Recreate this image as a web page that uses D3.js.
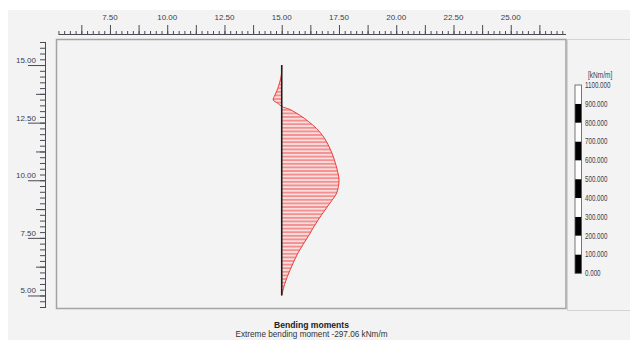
<!DOCTYPE html>
<html><head><meta charset="utf-8">
<script src="https://cdn.jsdelivr.net/npm/d3@7/dist/d3.min.js"></script>
<style>
html,body{margin:0;padding:0;background:#fff;}
svg{display:block;font-family:"Liberation Sans",Arial,sans-serif;}
</style></head>
<body><svg id="c" width="630" height="340"></svg>
<script>
// ---- data ----
const xTickValues = [7.5, 10, 12.5, 15, 17.5, 20, 22.5, 25];
const xTickLabels = ["7.50", "10.00", "12.50", "15.00", "17.50", "20.00", "22.50", "25.00"];
const yTickValues = [5, 7.5, 10, 12.5, 15];
const yTickLabels = ["5.00", "7.50", "10.00", "12.50", "15.00"];
const levels  = [15.0, 14.57, 13.99, 13.70, 13.48, 13.34, 13.2, 13.08, 12.8, 12.54, 12.25, 11.82, 11.10, 10.37, 10.01, 9.45, 9.01, 8.27, 7.55, 6.84, 6.10, 5.54, 5.0];
const moments = [0, 2, 20, 35, 44, 20, 0, -40, -98, -140, -180, -222, -264, -290, -297.06, -285, -250, -188, -136, -84, -43, -17, 0];
const pileX = 15, pileTop = 15, pileBottom = 5;
const legendLabels = ["0.000", "100.000", "200.000", "300.000", "400.000", "500.000", "600.000", "700.000", "800.000", "900.000", "1100.000"];
const legendUnit = "[kNm/m]";
const chartTitle = "Bending moments";
const extremeMoment = -297.06;
const subtitle = "Extreme bending moment -297.06 kNm/m";

// ---- layout ----
const svg = d3.select("#c");
const x = d3.scaleLinear().domain([5, 27.5]).range([52.7, 568]);
const y = d3.scaleLinear().domain([4.5, 16]).range([307, 42]);
const mx = d3.scaleLinear().domain([0, extremeMoment]).range([x(pileX), x(pileX) + 57.3]);

svg.append("rect").attr("x", 8).attr("y", 10).attr("width", 622).attr("height", 330).attr("fill", "#f3f3f3");

// legend panel frame
svg.append("rect").attr("x", 567.5).attr("y", 39.5).attr("width", 70).attr("height", 271)
  .attr("fill", "#f3f3f3").attr("stroke", "#d4d4d4").attr("stroke-width", 1);

// plot frame
svg.append("rect").attr("x", 56.5).attr("y", 39.5).attr("width", 509.5).attr("height", 269)
  .attr("fill", "#f3f3f3").attr("stroke", "#a3a3a3").attr("stroke-width", 1.5);

// hatch pattern
const defs = svg.append("defs");
const pat = defs.append("pattern").attr("id", "hatch").attr("patternUnits", "userSpaceOnUse")
  .attr("width", 8).attr("height", 3.6);
pat.append("rect").attr("width", 8).attr("height", 3.6).attr("fill", "rgba(255,180,180,0.35)");
pat.append("line").attr("x1", 0).attr("x2", 8).attr("y1", 1.8).attr("y2", 1.8)
  .attr("stroke", "#f07070").attr("stroke-width", 1.3);

const axColor = "#4a4a55";
function tickGroup(parent, axis) {
  const g = parent.append("g").call(axis);
  g.selectAll(".domain").remove();
  g.selectAll(".tick line").attr("stroke", axColor);
  return g;
}

// ---- top axis ----
const gTop = svg.append("g").attr("transform", "translate(0,34)");
const minorX = d3.range(5.25, 27.3, 0.25);
const medX = d3.range(6.25, 27.3, 1.25);
tickGroup(gTop, d3.axisTop(x).tickValues(minorX).tickSize(3).tickFormat(""));
tickGroup(gTop, d3.axisTop(x).tickValues(medX).tickSize(9).tickFormat(""));
gTop.append("line").attr("x1", x(5.25)).attr("x2", 566).attr("y1", 0.5).attr("y2", 0.5)
  .attr("stroke", axColor).attr("stroke-width", 1);
gTop.selectAll("text.lbl").data(xTickValues).join("text").attr("class", "lbl")
  .attr("x", d => x(d)).attr("y", -14.5).attr("text-anchor", "middle")
  .attr("font-size", 8).attr("fill", "#3c3c4c").text((d, i) => xTickLabels[i]);

// ---- left axis ----
const gLeft = svg.append("g").attr("transform", "translate(46,0)");
const minorY = d3.range(4.5, 16.01, 0.25);
const medY = d3.range(6.25, 16.01, 2.5);
tickGroup(gLeft, d3.axisLeft(y).tickValues(minorY).tickSize(6).tickFormat(""));
tickGroup(gLeft, d3.axisLeft(y).tickValues(medY).tickSize(10).tickFormat(""));
tickGroup(gLeft, d3.axisLeft(y).tickValues(yTickValues).tickSize(18).tickFormat(""));
gLeft.append("line").attr("x1", -0.5).attr("x2", -0.5).attr("y1", y(16)).attr("y2", y(4.5))
  .attr("stroke", axColor).attr("stroke-width", 1);
gLeft.selectAll("text.lbl").data(yTickValues).join("text").attr("class", "lbl")
  .attr("x", -10).attr("y", d => y(d) - 2).attr("text-anchor", "end")
  .attr("font-size", 8).attr("fill", "#3c3c4c").text((d, i) => yTickLabels[i]);

// ---- moment diagram ----
const pts = levels.map((l, i) => ({l, m: moments[i]}));
const curve = d3.curveCatmullRom.alpha(0.5);
const area = d3.area().y(d => y(d.l)).x0(x(pileX)).x1(d => mx(d.m)).curve(curve);
const line = d3.line().y(d => y(d.l)).x(d => mx(d.m)).curve(curve);
svg.append("path").datum(pts).attr("d", area).attr("fill", "url(#hatch)");
svg.append("path").datum(pts).attr("d", line).attr("fill", "none")
  .attr("stroke", "#ec3a3a").attr("stroke-width", 1);

// pile
svg.append("line").attr("x1", x(pileX)).attr("x2", x(pileX))
  .attr("y1", y(pileTop)).attr("y2", y(pileBottom))
  .attr("stroke", "#1e1e1e").attr("stroke-width", 1.6);

// ---- legend ----
const ly = d3.scaleLinear().domain([0, 10]).range([273.3, 85]);
const segs = d3.range(10);
svg.append("g").selectAll("rect").data(segs).join("rect")
  .attr("x", 575).attr("width", 6.5)
  .attr("y", d => ly(d + 1)).attr("height", d => ly(d) - ly(d + 1))
  .attr("fill", d => d % 2 === 0 ? "#000" : "#fff");
svg.append("rect").attr("x", 575).attr("y", ly(10)).attr("width", 6.5).attr("height", ly(0) - ly(10))
  .attr("fill", "none").attr("stroke", "#555").attr("stroke-width", 0.8);
svg.append("g").selectAll("text").data(legendLabels).join("text")
  .attr("transform", (d, i) => `translate(585,${ly(i) + 2.9}) scale(0.76,1)`)
  .attr("font-size", 8.2).attr("fill", "#3c3c4c").text(d => d);
svg.append("text").attr("transform", "translate(588,78) scale(0.8,1)")
  .attr("font-size", 8.2).attr("fill", "#3c3c4c").text(legendUnit);

// ---- titles ----
svg.append("text").attr("x", 311.5).attr("y", 328).attr("text-anchor", "middle")
  .attr("font-size", 8.6).attr("font-weight", "bold").attr("fill", "#222").text(chartTitle);
svg.append("text").attr("x", 311.5).attr("y", 336.5).attr("text-anchor", "middle")
  .attr("font-size", 8.2).attr("fill", "#333").text(subtitle);
</script></body></html>
